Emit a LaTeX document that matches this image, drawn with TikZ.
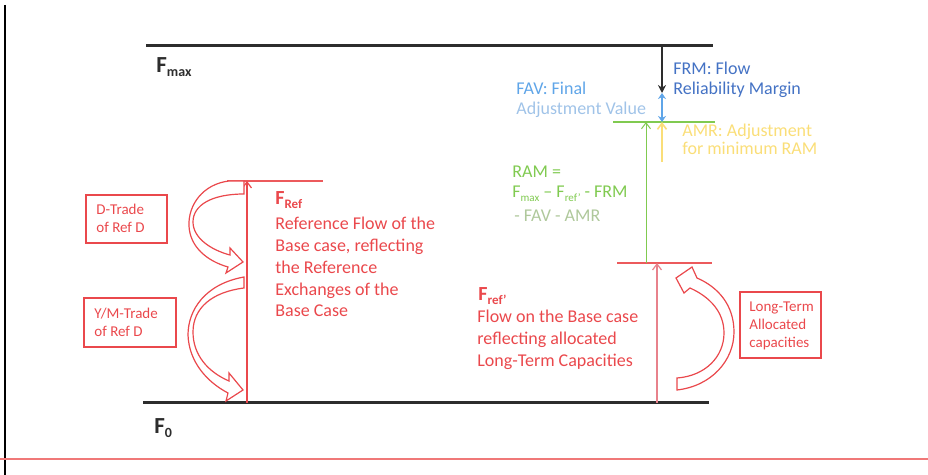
\documentclass[tikz,border=0pt]{standalone}
\usepackage{fontspec}
\setmainfont{Carlito}
\usetikzlibrary{arrows.meta}
\definecolor{redc}{RGB}{234,72,76}
\definecolor{redl}{RGB}{236,90,92}
\definecolor{pinkl}{RGB}{232,130,140}
\definecolor{botred}{RGB}{240,120,120}
\definecolor{dk}{RGB}{45,45,45}
\definecolor{frmblue}{RGB}{68,114,196}
\definecolor{favblue}{RGB}{95,165,232}
\definecolor{favblue2}{RGB}{160,195,232}
\definecolor{ramgreen}{RGB}{128,202,80}
\definecolor{ramgray}{RGB}{175,200,155}
\definecolor{amryel}{RGB}{250,222,120}
\newcommand\mysub[2]{\raisebox{-0.35ex}{\fontsize{#1}{#1}\selectfont #2}}
\begin{document}
\begin{tikzpicture}[x=0.5pt,y=-0.5pt,
  lbl/.style={anchor=base west, inner sep=0pt, align=left, font=\fontsize{9}{10.9}\selectfont},
  boxlbl/.style={anchor=base west, inner sep=0pt, align=left, text=redc, font=\fontsize{7.5}{9}\selectfont},
  tbox/.style={draw=redc, line width=0.8pt},
  curvarr/.style={draw=redc, line width=0.6pt, fill=white, line join=miter},
  hline/.style={line width=1.5pt, draw=dk},
  rline/.style={line width=1.25pt, draw=redl},
  vtip/.style={-{Straight Barb[length=3pt,width=4.5pt]}}
]
\useasboundingbox (0,0) rectangle (928,475);

% frame lines
\coordinate (lbTop) at (5,5);
\coordinate (lbBot) at (5,475);
\draw[line width=0.6pt, black] (lbTop) -- (lbBot);
\coordinate (brL) at (0,459);
\coordinate (brR) at (928,459);
\draw[line width=0.8pt, botred] (brL) -- (brR);

% Fmax and F0 lines
\coordinate (fmaxL) at (146,46);
\coordinate (fmaxR) at (713,46);
\draw[hline] (fmaxL) -- (fmaxR);
\coordinate (f0L) at (143,403);
\coordinate (f0R) at (709,403);
\draw[hline] (f0L) -- (f0R);
\node[inner sep=0pt, anchor=base west, text=dk, font=\bfseries\fontsize{11.5}{12}\selectfont] (fmax) at (156,73) {F\mysub{7}{max}};
\node[inner sep=0pt, anchor=base west, text=dk, font=\bfseries\fontsize{11.5}{12}\selectfont] (fzero) at (154,434) {F\mysub{7}{0}};

% FRef
\coordinate (refL) at (227,181);
\coordinate (refR) at (323,181);
\draw[rline] (refL) -- (refR);
\coordinate (refTop) at (247,181);
\coordinate (refBot) at (247,403);
\draw[redc, line width=0.6pt, vtip] (refBot) -- (refTop);
\node[inner sep=0pt, anchor=base west, text=redc, font=\bfseries\fontsize{10}{11}\selectfont] (frefT) at (275,205) {F\mysub{6.5}{Ref}};
\node[lbl, text=redc] (frefD) at (275,317) {Reference Flow of the\\Base case, reflecting\\the Reference\\Exchanges of the\\Base Case};

% curved arrows left
\draw[curvarr] (229,181) .. controls (203,184) and (188,205) .. (189,226)
  .. controls (190,247) and (207,261) .. (228,267) -- (226,273) -- (243,262) -- (230,248) -- (230,255)
  .. controls (211,250) and (193,238) .. (193,222)
  .. controls (193,205) and (212,194) .. (244,194) -- (244,181) -- cycle;
\draw[curvarr] (244,277) .. controls (205,284) and (188,310) .. (188,335)
  .. controls (189,362) and (207,382) .. (228,393) -- (226,401) -- (243,390) -- (229,373) -- (229,381)
  .. controls (208,372) and (193,355) .. (193,332)
  .. controls (193,308) and (212,292) .. (244,288) -- cycle;

% left boxes
\draw[tbox] (86,195) rectangle (167,243);
\node[boxlbl] (dtrade) at (96,233) {D-Trade\\of Ref D};
\draw[tbox] (84,298) rectangle (176,347);
\node[boxlbl] (ymtrade) at (94,337) {Y/M-Trade\\of Ref D};

% Fref'
\coordinate (rfL) at (617,263);
\coordinate (rfR) at (712,263);
\draw[rline] (rfL) -- (rfR);
\coordinate (rfTop) at (657,263);
\coordinate (rfBot) at (657,403);
\draw[pinkl, line width=0.6pt, vtip] (rfBot) -- (rfTop);
\node[inner sep=0pt, anchor=base west, text=redc, font=\bfseries\fontsize{10}{11}\selectfont] (frefpT) at (478,301) {F\mysub{6.5}{ref'}};
\node[lbl, text=redc, font=\fontsize{9}{11}\selectfont] (frefpD) at (477,367) {Flow on the Base case\\reflecting allocated\\Long-Term Capacities};

% right curved arrow
\draw[curvarr] (677,390) .. controls (712,386) and (734,360) .. (734,332)
  .. controls (734,305) and (718,287) .. (697,278) -- (692,267) -- (676,278) -- (684,293) -- (690,288)
  .. controls (710,297) and (724,312) .. (724,333)
  .. controls (724,357) and (705,376) .. (677,378) -- cycle;
\draw[tbox] (740,292) rectangle (821,358);
\node[boxlbl] (ltbox) at (749,348) {Long-Term\\Allocated\\capacities};

% green RAM
\coordinate (gL) at (613,122);
\coordinate (gR) at (715,122);
\draw[ramgreen, line width=1pt] (gL) -- (gR);
\coordinate (gBot) at (646,263);
\coordinate (gTop) at (646,122);
\draw[ramgreen, line width=0.5pt, vtip] (gBot) -- (gTop);
\node[lbl, text=ramgreen] (ram1) at (512,178) {RAM =};
\node[lbl, text=ramgreen] (ram2) at (512,198) {F\mysub{5.5}{max} -- F\mysub{5.5}{ref'} - FRM};
\node[lbl, text=ramgray] (ram3) at (514,222) {- FAV - AMR};

% FRM
\coordinate (frmTop) at (662,46);
\coordinate (frmBot) at (662,93);
\draw[dk, line width=0.6pt, -{Stealth[length=4pt,width=4pt]}] (frmTop) -- (frmBot);
\node[lbl, text=frmblue, font=\fontsize{9}{10}\selectfont] (frm) at (673,95) {FRM: Flow\\Reliability Margin};

% FAV
\coordinate (favTop) at (662,93);
\coordinate (favBot) at (662,122);
\draw[favblue, line width=0.6pt, {Stealth[length=3pt,width=4pt]}-{Stealth[length=3pt,width=4pt]}] (favBot) -- (favTop);
\node[lbl, text=favblue] (fav1) at (516,95) {FAV: Final};
\node[lbl, text=favblue2] (fav2) at (516,115) {Adjustment Value};

% AMR
\coordinate (amrTop) at (662,122);
\coordinate (amrBot) at (662,162);
\draw[amryel, line width=0.8pt, vtip] (amrBot) -- (amrTop);
\node[lbl, text=amryel, font=\fontsize{9}{9}\selectfont] (amr) at (682,155) {AMR: Adjustment\\for minimum RAM};
\end{tikzpicture}
\end{document}
